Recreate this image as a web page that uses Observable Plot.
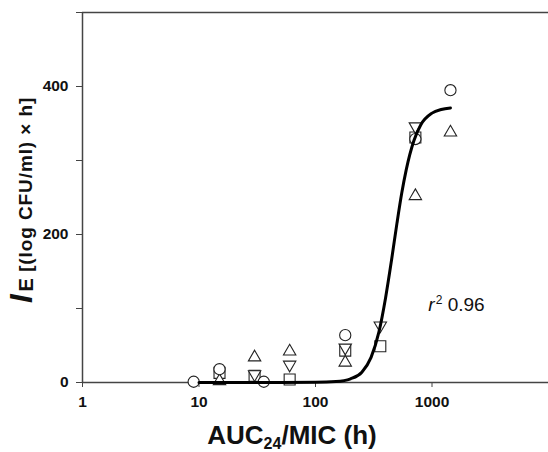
<!DOCTYPE html>
<html>
<head>
<meta charset="utf-8">
<script src="https://cdn.jsdelivr.net/npm/d3@7"></script>
<script src="https://cdn.jsdelivr.net/npm/@observablehq/plot@0.6"></script>
<style>
  html, body { margin: 0; padding: 0; background: #fff; }
  svg { display: block; }
  g[aria-label="x-axis tick label"] text,
  g[aria-label="y-axis tick label"] text {
    font-size: 15.5px; font-weight: bold; fill: #111;
  }
</style>
</head>
<body>
<div id="chart"></div>
<script>
// Open circles
const circleX = [9, 15, 36, 180, 720, 1440];
const circleY = [1, 18, 1, 64, 329, 395];
// Open triangles (up)
const triUpX = [15, 30, 60, 180, 720, 1440];
const triUpY = [2, 34, 42, 27, 252, 338];
// Open triangles (down)
const triDownX = [30, 60, 180, 360, 720];
const triDownY = [11, 24, 47, 77, 346];
// Open squares
const squareX = [15, 30, 60, 180, 360, 720];
const squareY = [13, 9, 4, 43, 49, 331];
// Fitted sigmoid curve
const curveX = [10, 20, 50, 100, 150, 200, 250, 300, 350, 400, 450, 500, 550, 600, 700, 800, 1000, 1200, 1440];
const curveY = [0, 0, 0, 0.2, 1.2, 5, 14, 34, 68, 115, 166, 215, 256, 287, 327, 348, 364, 369, 371];
// Axis ticks
const xTicks = [1, 10, 100, 1000];
const yTicks = [0, 100, 200, 300, 400, 500];
const yTickLabels = ["0", "", "200", "", "400", ""];
const r2Text = "0.96";

const toPts = (xs, ys) => xs.map((x, i) => ({x, y: ys[i]}));
const circles = toPts(circleX, circleY);
const triUp = toPts(triUpX, triUpY);
const triDown = toPts(triDownX, triDownY);
const squares = toPts(squareX, squareY);
const curve = toPts(curveX, curveY);

const axisColor = "#444";
const font = "'Liberation Sans', Arial, sans-serif";
const dotStyle = {x: "x", y: "y", fill: "white", stroke: "#222", strokeWidth: 1.1};

const plot = Plot.plot({
  width: 548,
  height: 452,
  marginLeft: 82,
  marginRight: 0,
  marginTop: 12,
  marginBottom: 70,
  x: {type: "log", domain: [1, 10000]},
  y: {domain: [0, 500]},
  style: {fontFamily: font, background: "white", color: "#111"},
  marks: [
    Plot.ruleY([0, 500], {stroke: axisColor, strokeWidth: 1.5}),
    Plot.ruleX([1], {stroke: axisColor, strokeWidth: 1.5}),
    Plot.axisX({ticks: xTicks, tickFormat: d => String(d), tickSize: 5, tickPadding: 8,
      label: null, stroke: axisColor}),
    Plot.axisY({ticks: yTicks, tickFormat: d => yTickLabels[yTicks.indexOf(d)], tickSize: 6, tickPadding: 8,
      label: null, stroke: axisColor}),
    Plot.dot(squares, {...dotStyle, symbol: "square", r: 6.2}),
    Plot.dot(triUp, {...dotStyle, symbol: "triangle", r: 4.6}),
    Plot.dot(triDown, {...dotStyle, symbol: "triangle", r: 4.6, rotate: 180}),
    Plot.dot(circles, {...dotStyle, symbol: "circle", r: 5.6}),
    Plot.line(curve, {x: "x", y: "y", stroke: "#000", strokeWidth: 3, curve: "monotone-x"})
  ]
});

document.getElementById("chart").appendChild(plot);

const svg = d3.select(plot);
const xs = plot.scale("x");
const ys = plot.scale("y");

// X axis title
const xt = svg.append("text")
  .attr("x", 292).attr("y", 444)
  .attr("text-anchor", "middle")
  .attr("font-family", font)
  .attr("font-weight", "bold")
  .attr("font-size", 26)
  .attr("fill", "#111");
xt.append("tspan").text("AUC");
xt.append("tspan").attr("font-size", 16).attr("dy", 5).text("24");
xt.append("tspan").attr("dy", -5).text("/MIC (h)");

// Y axis title
const yt = svg.append("text")
  .attr("transform", "translate(32,303) rotate(-90)")
  .attr("text-anchor", "start")
  .attr("font-family", font)
  .attr("font-weight", "bold")
  .attr("fill", "#111");
yt.append("tspan").attr("font-size", 31).attr("font-style", "italic").text("I");
yt.append("tspan").attr("font-size", 20).attr("dy", 1).attr("dx", 3).text("E");
yt.append("tspan").attr("font-size", 19).attr("dy", -1).attr("letter-spacing", 0.9).text(" [(log CFU/ml) \u00d7 h]");

// r² annotation
const rt = svg.append("text")
  .attr("x", xs.apply(940)).attr("y", ys.apply(96))
  .attr("text-anchor", "start")
  .attr("font-family", font)
  .attr("font-size", 19)
  .attr("fill", "#111");
rt.append("tspan").attr("font-style", "italic").text("r");
rt.append("tspan").attr("font-size", 12).attr("dy", -7).attr("dx", 1).text("2");
rt.append("tspan").attr("dy", 7).text(" " + r2Text);
</script>
</body>
</html>
